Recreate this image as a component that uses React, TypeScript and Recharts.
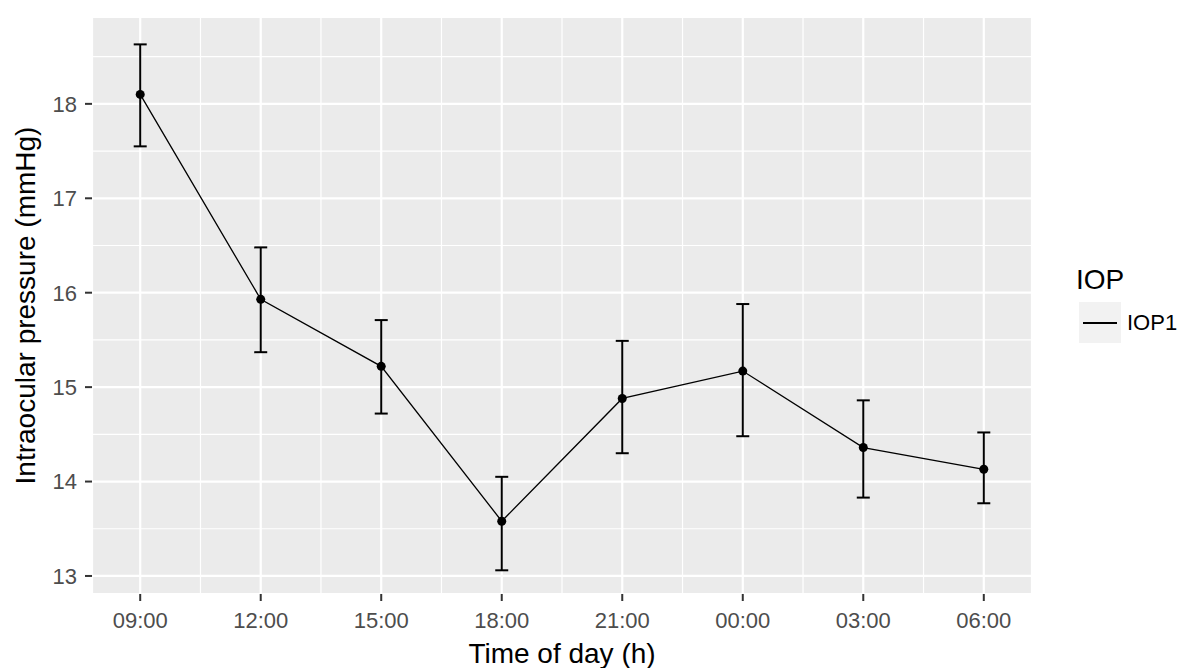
import React from 'react';
import {
  ComposedChart,
  Line,
  ErrorBar,
  XAxis,
  YAxis,
  CartesianGrid,
} from 'recharts';

// time of day labels (categories along x)
const times = ['09:00', '12:00', '15:00', '18:00', '21:00', '00:00', '03:00', '06:00'];
// mean IOP and the error bar ends
const means = [18.1, 15.93, 15.22, 13.58, 14.88, 15.17, 14.36, 14.13];
const lower = [17.55, 15.37, 14.72, 13.06, 14.3, 14.48, 13.83, 13.77];
const upper = [18.63, 16.48, 15.71, 14.05, 15.49, 15.88, 14.86, 14.52];

const yTicks = [13, 14, 15, 16, 17, 18];
const yMinor = [13.5, 14.5, 15.5, 16.5, 17.5, 18.5];
const xTicks = times.map((_, i) => i);
const xMinor = [0.5, 1.5, 2.5, 3.5, 4.5, 5.5, 6.5];

const data = times.map((t, i) => ({
  x: i,
  label: t,
  iop: means[i],
  err: [means[i] - lower[i], upper[i] - means[i]],
}));

const FONT = '"Liberation Sans", Arial, sans-serif';

const YTitle = (props: any) => {
  const { viewBox } = props;
  const cx = viewBox.x + 35;
  const cy = viewBox.y + viewBox.height / 2;
  return (
    <text
      x={cx}
      y={cy}
      transform={`rotate(-90, ${cx}, ${cy})`}
      textAnchor="middle"
      fontSize={28}
      fontFamily={FONT}
      fill="#000"
    >
      Intraocular pressure (mmHg)
    </text>
  );
};

const XTitle = (props: any) => {
  const { viewBox } = props;
  return (
    <text
      x={viewBox.x + viewBox.width / 2}
      y={viewBox.y + viewBox.height - 5}
      textAnchor="middle"
      fontSize={28}
      fontFamily={FONT}
      fill="#000"
    >
      Time of day (h)
    </text>
  );
};

const App = () => {
  return (
    <div style={{ position: 'absolute', left: 0, top: 0, width: 1179, height: 668, background: '#fff' }}>
      <ComposedChart
        width={1179}
        height={668}
        data={data}
        margin={{ top: 17, right: 147, bottom: 0, left: 0 }}
      >
        {/* panel background + minor grid */}
        <CartesianGrid
          fill="#EBEBEB"
          stroke="#fff"
          strokeWidth={1.2}
          horizontalValues={yMinor}
          verticalValues={xMinor}
        />
        {/* major grid */}
        <CartesianGrid fill="none" stroke="#fff" strokeWidth={2.2} />
        <XAxis
          dataKey="x"
          type="number"
          domain={[-0.4, 7.4]}
          ticks={xTicks}
          tickFormatter={(v) => times[v]}
          allowDataOverflow
          axisLine={false}
          tickSize={7}
          tickMargin={11}
          tickLine={{ stroke: '#333', strokeWidth: 2 }}
          tick={{ fill: '#4D4D4D', fontSize: 22, fontFamily: FONT }}
          height={74}
          label={<XTitle />}
        />
        <YAxis
          type="number"
          domain={[12.809, 18.92]}
          ticks={yTicks}
          allowDataOverflow
          axisLine={false}
          tickSize={7}
          tickMargin={8}
          tickLine={{ stroke: '#333', strokeWidth: 2 }}
          tick={{ fill: '#4D4D4D', fontSize: 22, fontFamily: FONT }}
          width={92}
          label={<YTitle />}
        />
        <Line
          dataKey="iop"
          type="linear"
          stroke="#000"
          strokeWidth={1.3}
          dot={{ r: 4.5, fill: '#000', stroke: 'none' }}
          activeDot={false}
          isAnimationActive={false}
        >
          <ErrorBar dataKey="err" direction="y" width={6.5} stroke="#000" strokeWidth={2} isAnimationActive={false} />
        </Line>
      </ComposedChart>

      {/* legend */}
      <div style={{ position: 'absolute', left: 1076, top: 264, fontFamily: FONT }}>
        <div style={{ fontSize: 28, color: '#000', lineHeight: '32px' }}>IOP</div>
        <div style={{ display: 'flex', alignItems: 'center', marginTop: 6 }}>
          <div
            style={{
              width: 42,
              height: 41,
              marginLeft: 3,
              background: '#F2F2F2',
              display: 'flex',
              alignItems: 'center',
              justifyContent: 'center',
            }}
          >
            <div style={{ width: 34, height: 2, background: '#000' }} />
          </div>
          <div style={{ fontSize: 22, color: '#000', marginLeft: 6 }}>IOP1</div>
        </div>
      </div>
    </div>
  );
};

export default App;
